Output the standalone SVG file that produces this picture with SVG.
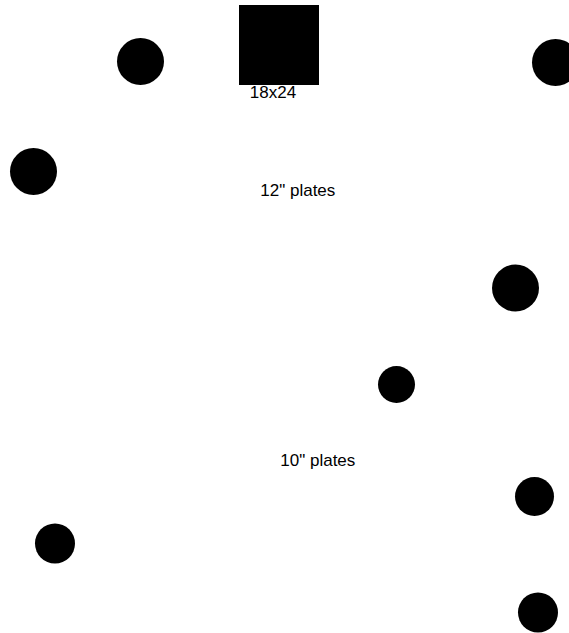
<svg xmlns="http://www.w3.org/2000/svg" width="569" height="633" viewBox="0 0 569 633">
<style>
.plate{fill:#000}
.lbl{font-family:"Liberation Sans",Arial,sans-serif;font-size:17px;fill:#000}
</style>
<rect width="569" height="633" fill="#fff"/>
<g id="connectors"></g>
<g id="p1"><circle class="plate" cx="140.5" cy="61.5" r="23.5"/></g>
<g id="p2"><circle class="plate" cx="555.5" cy="62.5" r="23.5"/></g>
<g id="p3"><circle class="plate" cx="33.5" cy="171.5" r="23.5"/></g>
<g id="p4"><circle class="plate" cx="515.5" cy="288" r="23.5"/></g>
<g id="p5"><circle class="plate" cx="396.5" cy="384.5" r="18.5"/></g>
<g id="p6"><circle class="plate" cx="534.5" cy="496.5" r="19.5"/></g>
<g id="p7"><circle class="plate" cx="55" cy="543.5" r="20"/></g>
<g id="p8"><circle class="plate" cx="538" cy="612.5" r="20"/></g>
<g id="label-12"><text class="lbl" x="297.8" y="195.5" text-anchor="middle">12" plates</text></g>
<g id="label-10"><text class="lbl" x="317.8" y="465.5" text-anchor="middle">10" plates</text></g>
<g id="box"><text class="lbl" x="273" y="97.5" text-anchor="middle">18x24</text><rect x="239" y="5" width="80" height="80" fill="#000"/></g>
</svg>
